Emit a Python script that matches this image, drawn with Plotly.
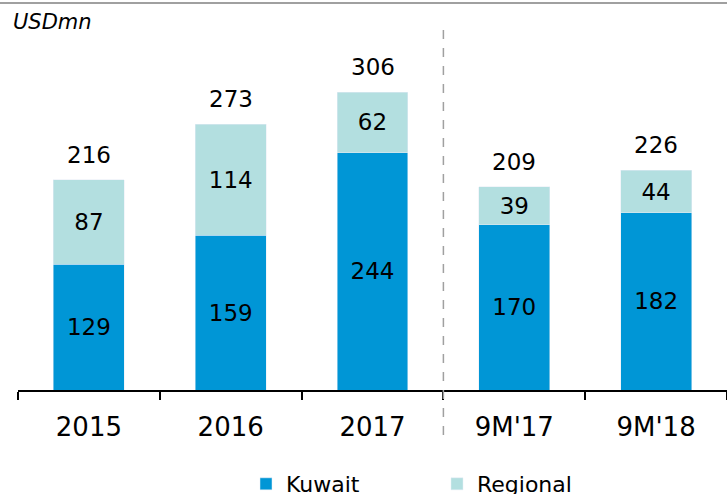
import plotly.graph_objects as go

categories = ["2015", "2016", "2017", "9M'17", "9M'18"]
kuwait = [129, 159, 244, 170, 182]
regional = [87, 114, 62, 39, 44]
totals = [216, 273, 306, 209, 226]

KUWAIT_C = "#0096D6"
REGIONAL_C = "#B3DFE0"
FONT = "Verdana, DejaVu Sans, sans-serif"

fig = go.Figure()
fig.add_trace(go.Bar(
    x=categories, y=kuwait, name="Kuwait", marker_color=KUWAIT_C,
    text=kuwait, textposition="inside", insidetextanchor="middle",
    textfont=dict(color="black", size=23, family=FONT), width=0.5,
))
fig.add_trace(go.Bar(
    x=categories, y=regional, name="Regional", marker_color=REGIONAL_C,
    text=regional, textposition="inside", insidetextanchor="middle",
    textfont=dict(color="black", size=23, family=FONT), width=0.5,
))

for i, t in enumerate(totals):
    fig.add_annotation(x=i, y=t, text=str(t), showarrow=False,
                       yanchor="bottom", yshift=10,
                       font=dict(size=23, color="black", family=FONT))

fig.add_annotation(xref="paper", yref="paper", x=-0.01, y=1.0, xanchor="left", yanchor="bottom",
                   text="<i>USDmn</i>", showarrow=False, yshift=-6,
                   font=dict(size=21, color="black", family=FONT))

# dashed separator
fig.add_shape(type="line", xref="x", yref="paper", x0=2.5, x1=2.5, y0=-0.125, y1=1.0,
              line=dict(color="#A0A0A0", width=1.5, dash="dash"))
# top border
fig.add_shape(type="line", xref="paper", yref="paper", x0=-0.03, x1=1.0, y0=1.0 + 27/360, y1=1.0 + 27/360,
              line=dict(color="#A0A0A0", width=2), layer="above")

fig.update_layout(
    width=727, height=494,
    margin=dict(l=18, r=0, t=30, b=104, autoexpand=False),
    barmode="stack", bargap=0.5,
    plot_bgcolor="white", paper_bgcolor="white",
    font=dict(family=FONT, color="black"),
    showlegend=True,
    legend=dict(orientation="h", xref="container", yref="container", xanchor="left", x=246/727,
                yanchor="top", y=(494-463)/494,
                font=dict(size=22, family=FONT), entrywidth=146, entrywidthmode="pixels",
                traceorder="normal"),
)
fig.update_xaxes(type="category", range=[-0.5, 4.5], automargin=False, showline=True, linecolor="black",
                 linewidth=1.5, ticks="outside", ticklen=8, tickcolor="black", tickwidth=1.5,
                 tickson="boundaries", tickfont=dict(size=26, family=FONT, color="black"),
                 ticklabelstandoff=13, showgrid=False)
fig.update_yaxes(range=[0, 370], visible=False, showgrid=False)

fig.write_html("out.html", config={"displayModeBar": False},
               post_script="document.body.style.margin='0px';document.body.style.overflow='hidden';")
